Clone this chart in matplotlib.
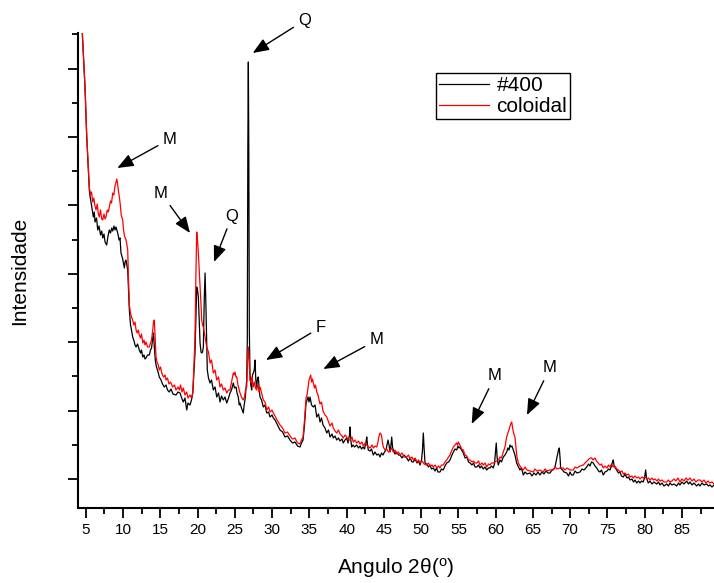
import matplotlib
matplotlib.use("Agg")
import matplotlib.pyplot as plt
import numpy as np
from matplotlib.ticker import MultipleLocator, FixedLocator

plt.rcParams['font.family'] = ['Liberation Sans', 'DejaVu Sans']
plt.rcParams['mathtext.fontset'] = 'custom'
plt.rcParams['mathtext.rm'] = 'Liberation Sans'
plt.rcParams['mathtext.it'] = 'Liberation Sans:italic'

# ---- data: (2theta in degrees, intensity in arbitrary units) ----
series_names = ["#400", "coloidal"]
series_colors = ["black", "red"]

pts_400 = [
    (4.36,500),(4.53,475),(4.89,421),(5.12,371),(5.34,338),(5.47,318),(5.56,312),(5.76,303),(6.01,291),(6.14,296),
    (6.23,286),(6.44,290),(6.60,278),(6.77,282),(6.97,273),(7.13,277),(7.27,270),(7.44,274),(7.58,266),(7.80,263),
    (7.98,272),(8.15,278),(8.31,275),(8.48,280),(8.61,277),(8.78,282),(8.92,278),(9.05,281),(9.28,275),(9.46,268),
    (9.59,270),(9.72,255),(9.92,250),(10.17,240),(10.26,246),(10.39,248),(10.53,242),(10.62,238),(10.73,218),(10.84,198),
    (11.00,183),(11.13,178),(11.29,171),(11.47,167),(11.60,163),(11.74,161),(11.94,164),(12.18,158),(12.34,155),(12.47,158),
    (12.64,151),(12.81,153),(12.94,149),(13.08,150),(13.28,153),(13.52,153),(13.68,158),(13.82,160),(13.95,168),(14.08,175),
    (14.22,158),(14.35,146),(14.49,141),(14.69,136),(14.86,131),(15.09,128),(15.29,124),(15.53,121),(15.76,123),(15.96,118),
    (16.20,116),(16.43,119),(16.70,114),(17.10,113),(17.37,116),(17.64,115),(17.91,109),(18.08,106),(18.31,110),(18.54,98),
    (18.71,105),(18.98,103),(19.18,108),(19.35,115),(19.49,133),(19.65,155),(19.76,188),(19.88,221),(19.99,218),(20.10,211),
    (20.22,188),(20.33,165),(20.46,156),(20.55,155),(20.66,156),(20.77,161),(20.89,208),(21.00,235),(21.10,208),(21.19,178),
    (21.30,138),(21.46,130),(21.67,125),(21.87,128),(22.11,118),(22.34,121),(22.57,111),(22.81,115),(23.01,106),(23.21,112),
    (23.45,108),(23.68,111),(23.91,105),(24.15,110),(24.35,115),(24.55,118),(24.79,125),(24.95,120),(25.16,121),(25.29,115),
    (25.46,111),(25.59,103),(25.69,105),(25.89,100),(26.13,95),(26.25,103),(26.36,108),(26.47,118),(26.59,128),(26.67,168),
    (26.74,358),(26.81,446),(26.87,358),(26.94,178),(27.03,135),(27.14,123),(27.26,118),(27.37,133),(27.48,135),(27.60,138),
    (27.71,148),(27.81,128),(27.93,121),(28.04,130),(28.15,131),(28.27,118),(28.38,111),(28.58,108),(28.82,101),(29.05,103),
    (29.28,95),(29.52,96),(29.72,91),(29.99,93),(30.16,90),(30.39,88),(30.66,84),(31.06,78),(31.40,76),(31.73,71),
    (32.07,72),(32.40,68),(32.74,65),(33.07,66),(33.41,62),(33.74,61),(33.94,65),(34.15,68),(34.35,83),(34.55,105),
    (34.68,108),(34.82,111),(34.95,106),(35.09,111),(35.29,103),(35.53,101),(35.76,103),(35.99,91),(36.23,94),(36.43,86),
    (36.63,90),(36.83,83),(37.10,80),(37.33,75),(37.57,78),(37.77,71),(38.04,74),(38.21,70),(38.44,72),(38.67,68),
    (38.91,70),(39.11,67),(39.38,69),(39.55,65),(39.78,68),(40.01,70),(40.18,65),(40.38,73),(40.45,81),(40.56,68),
    (40.68,61),(40.86,63),(41.06,61),(41.35,63),(41.59,60),(41.80,62),(42.00,59),(42.20,61),(42.40,59),(42.60,66),
    (42.70,71),(42.80,63),(42.91,58),(43.14,57),(43.34,59),(43.58,53),(43.81,56),(44.04,53),(44.28,54),(44.48,51),
    (44.68,55),(44.88,53),(45.08,56),(45.28,58),(45.42,63),(45.55,68),(45.69,63),(45.82,56),(45.95,63),(46.05,71),
    (46.16,61),(46.26,58),(46.49,54),(46.72,56),(46.96,53),(47.16,53),(47.43,50),(47.70,53),(48.06,50),(48.30,47),
    (48.51,50),(48.77,46),(48.95,46),(49.18,49),(49.45,45),(49.65,47),(49.85,43),(50.05,48),(50.18,58),(50.29,75),
    (50.41,58),(50.52,45),(50.72,44),(50.99,41),(51.19,43),(51.39,39),(51.63,40),(51.86,37),(52.06,40),(52.26,36),
    (52.53,36),(52.73,39),(52.97,38),(53.20,42),(53.43,45),(53.67,46),(53.87,48),(54.14,53),(54.32,56),(54.54,59),
    (54.77,58),(54.95,62),(55.08,60),(55.21,61),(55.42,58),(55.66,55),(55.89,50),(56.12,51),(56.36,46),(56.56,45),
    (56.83,43),(57.03,45),(57.23,41),(57.46,41),(57.70,43),(57.90,40),(58.10,42),(58.34,39),(58.57,41),(58.80,38),
    (59.04,40),(59.24,40),(59.44,42),(59.68,40),(59.84,44),(59.97,56),(60.08,65),(60.20,50),(60.35,43),(60.58,48),
    (60.78,46),(61.02,51),(61.25,53),(61.48,56),(61.65,60),(61.79,58),(61.92,63),(62.06,61),(62.19,62),(62.37,58),
    (62.59,53),(62.82,45),(63.06,41),(63.26,38),(63.46,40),(63.71,33),(63.94,36),(64.20,34),(64.61,35),(64.87,32),
    (65.14,35),(65.41,33),(65.68,36),(65.94,33),(66.21,36),(66.48,34),(66.75,37),(67.02,35),(67.29,35),(67.56,38),
    (67.82,39),(67.96,41),(68.16,48),(68.29,53),(68.43,58),(68.54,60),(68.66,48),(68.72,40),(68.97,38),(69.17,36),
    (69.53,35),(69.78,32),(69.98,36),(70.18,33),(70.42,33),(70.65,37),(70.92,35),(71.32,36),(71.59,39),(71.85,38),
    (72.22,41),(72.46,44),(72.66,42),(72.86,46),(73.10,45),(73.33,42),(73.56,40),(73.80,37),(74.00,36),(74.20,38),
    (74.44,33),(74.67,36),(74.94,37),(75.14,39),(75.34,38),(75.54,42),(75.67,46),(75.78,48),(75.90,42),(76.24,38),
    (76.48,35),(76.68,36),(76.88,32),(77.13,31),(77.35,34),(77.62,30),(77.82,31),(78.03,28),(78.29,29),(78.50,26),
    (78.70,28),(78.93,25),(79.17,27),(79.37,25),(79.57,27),(79.81,26),(79.97,30),(80.08,36),(80.13,38),(80.24,30),
    (80.48,25),(80.71,27),(80.98,24),(81.25,26),(81.61,24),(81.85,26),(82.05,23),(82.32,25),(82.59,22),(82.95,24),
    (83.19,22),(83.39,25),(83.66,23),(83.93,24),(84.29,22),(84.53,25),(84.73,23),(85.00,26),(85.27,24),(85.63,27),
    (85.88,24),(86.08,26),(86.35,23),(86.61,25),(86.98,22),(87.22,24),(87.42,22),(87.69,25),(87.96,23),(88.32,24),
    (88.56,22),(88.76,23),(89.03,21),(89.30,23),
]

pts_coloidal = [
    (4.36,500),(4.53,475),(4.89,421),(5.12,373),(5.34,340),(5.47,321),(5.63,313),(5.76,316),(5.93,306),(6.07,310),
    (6.23,302),(6.37,298),(6.53,304),(6.68,294),(6.81,291),(6.97,298),(7.13,289),(7.27,288),(7.44,294),(7.58,289),
    (7.71,291),(7.87,298),(8.02,296),(8.15,301),(8.31,307),(8.45,305),(8.61,315),(8.76,313),(8.92,322),(9.05,326),
    (9.15,329),(9.25,325),(9.36,318),(9.50,311),(9.63,303),(9.75,293),(9.95,288),(10.06,278),(10.19,272),(10.30,270),
    (10.39,268),(10.50,264),(10.62,258),(10.73,228),(10.84,203),(10.97,196),(11.13,191),(11.29,188),(11.44,183),(11.60,186),
    (11.74,178),(11.90,175),(12.04,178),(12.18,173),(12.34,170),(12.47,174),(12.64,165),(12.81,168),(12.94,163),(13.08,166),
    (13.28,161),(13.52,161),(13.68,165),(13.82,168),(13.98,178),(14.08,186),(14.19,188),(14.29,173),(14.42,151),(14.55,146),
    (14.72,143),(14.86,138),(15.02,141),(15.23,134),(15.43,131),(15.63,133),(15.76,128),(15.96,130),(16.16,124),(16.37,126),
    (16.66,121),(16.90,123),(17.10,118),(17.37,121),(17.55,118),(17.71,123),(17.91,116),(18.08,120),(18.31,113),(18.54,116),
    (18.71,110),(18.98,113),(19.18,110),(19.35,115),(19.49,138),(19.65,171),(19.76,228),(19.88,276),(19.99,268),(20.10,255),
    (20.22,238),(20.33,221),(20.46,203),(20.55,188),(20.66,183),(20.77,181),(20.89,176),(21.00,171),(21.22,161),(21.46,156),
    (21.67,145),(21.87,148),(22.11,135),(22.34,138),(22.57,128),(22.81,131),(23.01,121),(23.21,124),(23.45,118),(23.68,120),
    (23.91,115),(24.15,118),(24.35,118),(24.55,126),(24.79,135),(24.91,133),(25.02,136),(25.16,131),(25.25,131),(25.42,123),
    (25.69,115),(25.89,111),(26.13,108),(26.30,111),(26.43,118),(26.59,121),(26.70,143),(26.81,161),(26.93,148),(27.03,128),
    (27.16,125),(27.30,131),(27.48,121),(27.64,126),(27.77,120),(27.93,118),(28.11,124),(28.24,116),(28.38,121),(28.58,115),
    (28.82,108),(29.05,106),(29.28,98),(29.52,101),(29.72,96),(29.99,98),(30.16,95),(30.39,92),(30.66,88),(31.06,83),
    (31.40,80),(31.73,75),(32.07,76),(32.40,72),(32.74,69),(33.07,70),(33.41,65),(33.74,64),(33.94,68),(34.15,71),
    (34.35,88),(34.55,110),(34.68,113),(34.82,120),(34.95,128),(35.09,131),(35.18,133),(35.29,126),(35.42,129),(35.53,125),
    (35.69,120),(35.82,123),(35.99,116),(36.16,113),(36.30,108),(36.43,104),(36.63,106),(36.83,97),(37.10,93),(37.33,91),
    (37.57,86),(37.77,82),(38.04,85),(38.21,80),(38.44,77),(38.67,75),(38.91,78),(39.11,74),(39.38,72),(39.55,70),
    (39.78,73),(40.01,71),(40.25,68),(40.45,68),(40.72,71),(40.89,66),(41.12,68),(41.35,65),(41.59,67),(41.80,64),
    (42.06,66),(42.24,62),(42.47,65),(42.70,63),(42.94,61),(43.14,60),(43.41,63),(43.58,60),(43.81,62),(44.04,61),
    (44.21,66),(44.35,72),(44.48,75),(44.61,74),(44.71,71),(44.82,65),(44.92,61),(45.15,58),(45.38,59),(45.62,56),
    (45.82,57),(46.02,60),(46.26,56),(46.49,58),(46.72,54),(46.96,56),(47.16,53),(47.43,55),(47.70,51),(48.06,51),
    (48.30,53),(48.51,49),(48.77,51),(48.95,48),(49.18,50),(49.45,46),(49.65,48),(49.85,45),(50.12,47),(50.39,44),
    (50.75,43),(50.99,45),(51.19,42),(51.46,43),(51.63,41),(51.86,43),(52.13,40),(52.33,42),(52.53,40),(52.73,43),
    (52.97,43),(53.20,46),(53.43,48),(53.67,51),(53.87,53),(54.07,57),(54.32,61),(54.54,63),(54.74,65),(54.88,63),
    (54.99,66),(55.12,64),(55.28,62),(55.42,59),(55.66,58),(55.89,53),(56.12,52),(56.36,48),(56.56,48),(56.83,46),
    (57.03,47),(57.23,45),(57.46,45),(57.70,47),(57.90,43),(58.17,45),(58.34,43),(58.57,45),(58.80,41),(59.04,44),
    (59.24,43),(59.44,45),(59.68,45),(59.91,46),(60.14,47),(60.38,48),(60.58,51),(60.78,50),(61.02,56),(61.25,61),
    (61.48,71),(61.65,75),(61.79,78),(61.92,81),(62.06,85),(62.15,86),(62.26,81),(62.37,76),(62.49,73),(62.59,71),
    (62.73,60),(62.86,51),(63.04,45),(63.26,42),(63.46,40),(63.71,38),(63.94,41),(64.20,38),(64.61,37),(65.05,36),
    (65.28,39),(65.55,37),(65.94,38),(66.39,36),(66.62,39),(66.89,37),(67.29,38),(67.73,38),(67.96,41),(68.23,39),
    (68.63,40),(69.07,40),(69.30,38),(69.57,40),(69.98,38),(70.42,38),(70.65,41),(70.92,40),(71.32,42),(71.76,43),
    (71.99,45),(72.26,47),(72.53,49),(72.73,50),(72.89,50),(73.06,48),(73.33,50),(73.53,47),(73.77,45),(74.00,43),
    (74.20,44),(74.44,40),(74.67,42),(74.94,40),(75.14,43),(75.34,41),(75.54,44),(75.78,41),(76.00,42),(76.24,39),
    (76.48,38),(76.68,36),(76.95,37),(77.13,34),(77.35,35),(77.58,33),(77.82,34),(78.03,31),(78.29,32),(78.47,30),
    (78.70,32),(78.97,30),(79.17,31),(79.37,29),(79.64,31),(79.81,30),(80.04,31),(80.31,29),(80.51,30),(80.71,28),
    (80.98,30),(81.15,28),(81.38,29),(81.65,27),(81.85,29),(82.05,27),(82.32,28),(82.59,26),(82.95,26),(83.19,28),
    (83.39,26),(83.66,27),(83.93,29),(84.19,27),(84.46,30),(84.73,26),(85.00,29),(85.27,27),(85.54,30),(85.81,28),
    (86.08,30),(86.35,27),(86.61,29),(86.88,26),(87.15,28),(87.42,28),(87.69,26),(87.96,28),(88.22,25),(88.49,27),
    (88.76,25),(89.03,26),(89.30,24),
]

xtick_values = list(range(5, 90, 5))
xtick_labels = [str(v) for v in xtick_values]

# annotations: label, peak tip (2theta, intensity), text position (2theta, intensity)
ann_labels = ["M", "M", "Q", "Q", "F", "M", "M", "M"]
ann_tips = [(9.23, 340), (18.98, 275), (22.20, 246), (27.40, 455),
            (29.18, 148), (36.87, 139), (56.78, 84), (64.20, 93)]
ann_texts = [(16.30, 369), (15.09, 315), (24.62, 292), (34.42, 488),
             (36.56, 181), (44.06, 168), (59.91, 132), (67.29, 140)]

# ---- figure ----
fig = plt.figure(figsize=(7.14, 5.83), dpi=100)
ax = fig.add_axes([78/714, 1 - 508/583, 1 - 78/714, (508 - 33)/583])

for pts, name, col in zip([pts_400, pts_coloidal], series_names, series_colors):
    xs = [p[0] for p in pts]
    ys = [p[1] for p in pts]
    ax.plot(xs, ys, color=col, lw=0.9, label=name)

ax.set_xlim(3.95, 89.3)
ax.set_ylim(0, 475)

ax.xaxis.set_major_locator(FixedLocator(xtick_values))
ax.set_xticklabels(xtick_labels)
ax.xaxis.set_minor_locator(MultipleLocator(2.5))
ax.yaxis.set_major_locator(FixedLocator(np.arange(29, 475, 68.4)))
ax.yaxis.set_minor_locator(FixedLocator(np.arange(63.2, 475, 68.4)))
ax.tick_params(axis='y', labelleft=False)
ax.tick_params(which='major', direction='out', length=7, width=1.3, labelsize=11)
ax.tick_params(which='minor', direction='out', length=4, width=1.3)

for s in ['top', 'right']:
    ax.spines[s].set_visible(False)
for s in ['left', 'bottom']:
    ax.spines[s].set_linewidth(1.5)

ax.set_xlabel(r'Angulo 2θ($^{\mathrm{o}}$)', fontsize=15, labelpad=14)
ax.set_ylabel('Intensidade', fontsize=15, labelpad=28)

leg = ax.legend(loc='upper left', bbox_to_anchor=(0.563, 0.916), borderaxespad=0,
                fancybox=False, edgecolor='black', fontsize=15, handlelength=2.4,
                handletextpad=0.35, borderpad=0.15, labelspacing=0.1, framealpha=1)
leg.get_frame().set_linewidth(1.0)

for lab, tip, txt in zip(ann_labels, ann_tips, ann_texts):
    ax.annotate(lab, xy=tip, xytext=txt, fontsize=12, ha='center', va='center',
                annotation_clip=False,
                arrowprops=dict(arrowstyle='-|>,head_length=0.7,head_width=0.28',
                                color='black', lw=1.0, mutation_scale=14,
                                shrinkA=2, shrinkB=0))

fig.savefig('out.png', dpi=100)
